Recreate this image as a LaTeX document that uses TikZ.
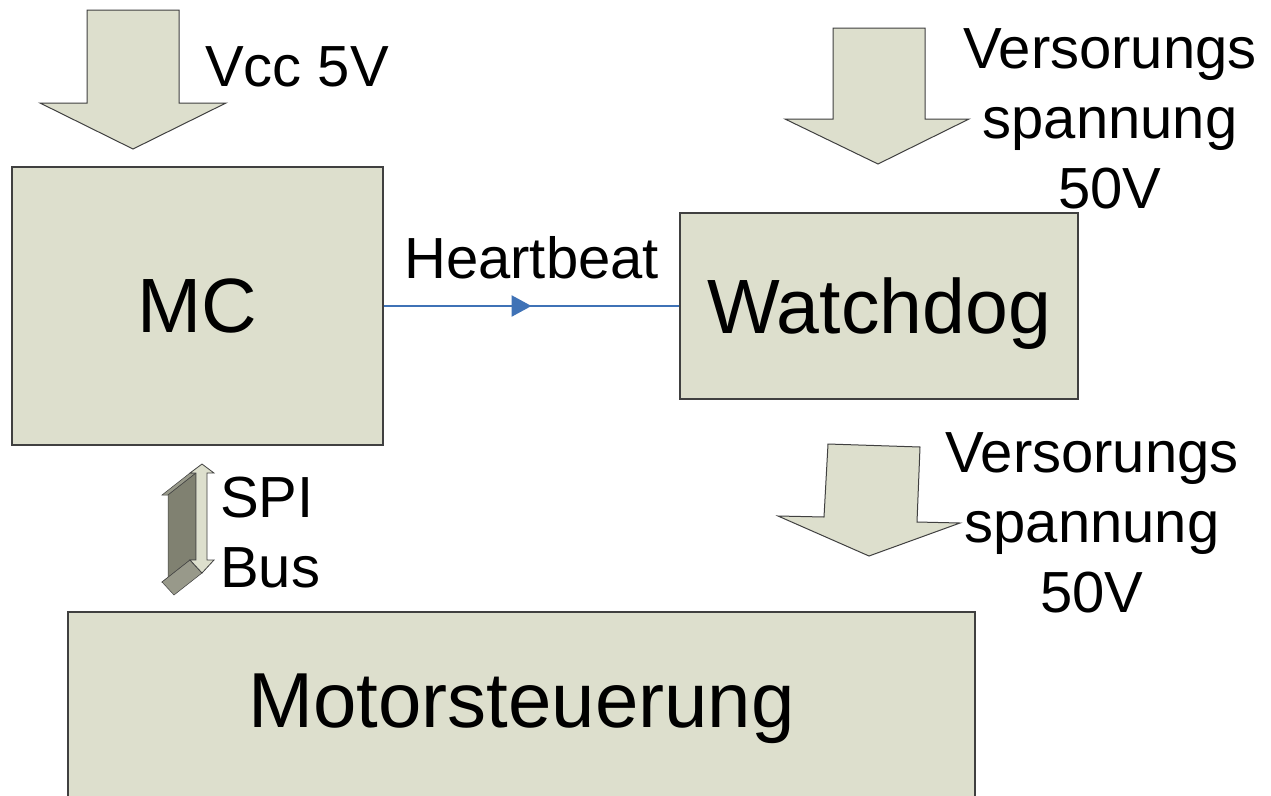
\documentclass[tikz,border=0pt]{standalone}
\usepackage{fontspec}
\setmainfont{Liberation Sans}
\usetikzlibrary{arrows.meta,calc}

\definecolor{boxfill}{RGB}{221,223,205}
\definecolor{boxline}{RGB}{64,64,64}
\definecolor{hbblue}{RGB}{63,114,182}
\definecolor{spidark}{RGB}{128,129,113}
\definecolor{spimid}{RGB}{152,153,138}

\begin{document}
\begin{tikzpicture}[x=1pt,y=-1pt,
  block/.style={draw=boxline,line width=1.5pt,fill=boxfill,inner sep=0pt,
    font=\fontsize{77}{92}\selectfont,text depth=0pt},
  power/.style={draw=boxline,line width=1pt,fill=boxfill},
  lbl/.style={inner sep=0pt,font=\fontsize{58}{70}\selectfont}]

\useasboundingbox (0,0) rectangle (1271,795);
\fill[white] (0,0) rectangle (1271,795);

% MC
\node[block,minimum width=371pt,minimum height=278pt] (MC) at (197.5,306) {MC};

% Watchdog
\node[block,minimum width=398pt,minimum height=186pt] (WD) at (879,306) {Watchdog};

% Motorsteuerung
\node[block,minimum width=907pt,minimum height=200pt,text depth=22pt,
  font=\fontsize{78}{92}\selectfont] (MS) at (521.5,712) {Motorsteuerung};

% Heartbeat
\draw[hbblue,line width=2.5pt] (MC.east) -- (WD.west);
\draw[hbblue,line width=2.5pt,-{Triangle[length=20pt,width=21pt]}] (MC.east) -- ($(MC.east)!0.5!(WD.west)$);
\node[lbl,anchor=base west] (hb) at (404,278) {Heartbeat};

% Vcc 5V
\draw[power] (87,10) -- (179,10) -- (179,103) -- (226,103) -- (133,149) -- (40,103) -- (87,103) -- cycle;
\node[lbl,anchor=base west] (vcc) at (205,86) {Vcc 5V};

% Versorung Watchdog
\draw[power] (833,28) -- (925,28) -- (925,119) -- (969,119) -- (878,164) -- (785,119) -- (833,119) -- cycle;
\node[lbl,anchor=base,align=center] (vwd) at (1110,208) {Versorungs\\spannung\\50V};

% Versorung Motorsteuerung
\draw[power] (828,444) -- (920,447) -- (917,522) -- (960,523) -- (869,556) -- (778,516) -- (824,517) -- cycle;
\node[lbl,anchor=base,align=center] (vms) at (1092,612) {Versorungs\\spannung\\50V};

% SPI Bus
\filldraw[fill=spimid,draw=boxline,line width=0.5pt] (190,473) -- (196,473) -- (168,495) -- (162,495) -- cycle;
\filldraw[fill=spidark,draw=boxline,line width=0.5pt] (196,473) -- (196,560) -- (168,582) -- (168,495) -- cycle;
\filldraw[fill=spimid,draw=boxline,line width=0.5pt] (196,560) -- (190,560) -- (162,582) -- (168,582) -- cycle;
\filldraw[fill=spimid,draw=boxline,line width=0.5pt] (190,560) -- (202,573) -- (174,595) -- (162,582) -- cycle;
\draw[power,line width=0.8pt] (202,464) -- (214,473) -- (207,473) -- (207,560) -- (214,560) -- (202,573) -- (190,560) -- (196,560) -- (196,473) -- (190,473) -- cycle;
\node[lbl,anchor=base west,align=left] (spi) at (220,587) {SPI\\Bus};

\end{tikzpicture}
\end{document}
